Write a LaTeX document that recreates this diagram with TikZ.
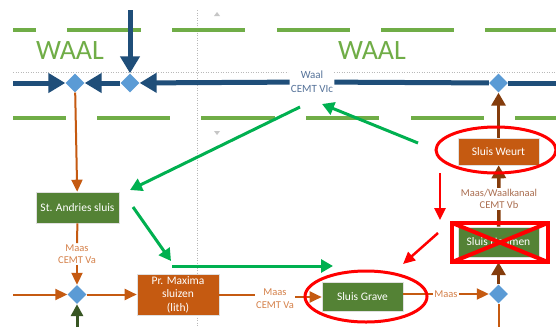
\documentclass[tikz,border=0pt]{standalone}
\usepackage{fontspec}
\setmainfont{Carlito}
\usetikzlibrary{shapes.geometric,arrows.meta}
\definecolor{navy}{HTML}{1F4E79}
\definecolor{waalgreen}{HTML}{70AD47}
\definecolor{arrowgreen}{HTML}{00B050}
\definecolor{boxgreen}{HTML}{548235}
\definecolor{boxorange}{HTML}{C55A11}
\definecolor{brownc}{HTML}{843C0C}
\definecolor{diablue}{HTML}{5B9BD5}
\definecolor{darkgreen}{HTML}{375623}
\definecolor{maaslbl}{HTML}{D5814A}
\definecolor{vblbl}{HTML}{AA6E50}
\definecolor{waallbl}{HTML}{56739A}
\begin{document}
\begin{tikzpicture}[x=1pt,y=-1pt,
 navyln/.style={draw=navy, line width=5pt},
 navyarr/.style={navyln, -{Triangle[length=17pt,width=19pt]}},
 orln/.style={draw=boxorange, line width=2pt},
 orarr/.style={orln, -{Triangle[length=12pt,width=11pt]}},
 brln/.style={draw=brownc, line width=3.5pt},
 brarr/.style={brln, -{Triangle[length=13pt,width=14pt]}},
 grarr/.style={draw=arrowgreen, line width=3pt, -{Triangle[length=12pt,width=13pt]}},
 redarr/.style={draw=red, line width=2.5pt, -{Triangle[length=12pt,width=11pt]}},
 dkgrarr/.style={draw=darkgreen, line width=3pt, -{Triangle[length=12pt,width=12pt]}},
 dia/.style={shape=diamond, aspect=1, minimum width=19pt, minimum height=19pt, inner sep=0pt, fill=diablue},
 box/.style={rectangle, draw=black!12, line width=0.6pt, text=white, font=\fontsize{11.5}{13.5}\selectfont, align=center, inner sep=0pt},
 greenbox/.style={box, fill=boxgreen},
 orbox/.style={box, fill=boxorange},
 waaldash/.style={draw=waalgreen, line width=3.5pt},
 guide/.style={draw=gray!55, line width=0.5pt, dotted},
 lbl/.style={align=center, inner sep=1pt, font=\fontsize{10.5}{12.5}\selectfont},
 redring/.style={shape=ellipse, draw=red, line width=3pt, inner sep=0pt},
]
\useasboundingbox (0,0) rectangle (556,327);
\fill[white] (0,0) rectangle (556,327);

% guides
\draw[guide] (197,10) -- (197,327);
\draw[guide] (13,72) -- (288,72);
\draw[guide] (334,72) -- (556,72);
\fill[gray!45] (214,16) -- (217,12) -- (220,16) -- cycle;
\fill[gray!45] (214,131) -- (217,135) -- (220,131) -- cycle;

% WAAL banks
\foreach \a/\b in {13/36,67/141,172/245,277/350,381/454,485/556}
  \draw[waaldash] (\a,30) -- (\b,30);
\foreach \a/\b in {13/66,97/170,201/275,306/379,411/484,515/556}
  \draw[waaldash] (\a,118) -- (\b,118);
\node[text=waalgreen, font=\fontsize{28}{30}\selectfont, inner sep=0pt] (waalL) at (70,51) {WAAL};
\node[text=waalgreen, font=\fontsize{28}{30}\selectfont, inner sep=0pt] (waalR) at (372,51) {WAAL};

% nodes
\node[dia] (d1) at (75,83) {};
\node[dia] (d2) at (130,83) {};
\node[dia] (d3) at (498.5,83) {};
\node[dia] (d4) at (77,294.5) {};
\node[dia] (d5) at (498.5,294) {};

\node[greenbox, minimum width=83pt, minimum height=31pt] (andries) at (77.5,207.5) {St. Andries sluis};
\node[orbox, minimum width=82pt, minimum height=41pt] (maxima) at (178,294.5) {Pr. Maxima\\sluizen\\(lith)};
\node[greenbox, minimum width=81pt, minimum height=29pt] (grave) at (362.5,297) {Sluis Grave};
\node[greenbox, minimum width=81pt, minimum height=30pt] (heumen) at (498.5,242) {Sluis Heumen};
\node[orbox, minimum width=81pt, minimum height=27pt] (weurt) at (498.5,151.5) {Sluis Weurt};

\node[lbl, text=waallbl, font=\fontsize{11}{14}\selectfont] (wl) at (312,82) {Waal\\CEMT VIc};
\node[lbl, text=maaslbl] (m1) at (77,254) {Maas\\CEMT Va};
\node[lbl, text=maaslbl] (m2) at (275,298.5) {Maas\\CEMT Va};
\node[lbl, text=maaslbl] (m3) at (446,294) {Maas};
\node[lbl, text=vblbl] (vb) at (499,199) {Maas/Waalkanaal\\CEMT Vb};

% red cross frame (named, drawn later)
\node[minimum width=96pt, minimum height=39pt, inner sep=0pt] (xbox) at (500,242.5) {};

% free ends
\coordinate (wlin) at (13,83);
\coordinate (wrin) at (556,83);
\coordinate (top) at (130,10);
\coordinate (orin) at (13,294.5);
\coordinate (dgin) at (77,327);
\coordinate (orout) at (498.5,327);

% Waal (navy)
\draw[navyarr] (wlin) -- (d1);
\draw[navyarr] (d2) -- (d1);
\draw[navyarr] (wl) -- (d2);
\draw[navyln] (d3) -- (wl);
\draw[navyln] (wrin) -- (d3);
\draw[navyarr] (top) -- (d2);

% Maas (orange)
\draw[orarr] (d1) -- (andries);
\draw[orln] (andries) -- (m1);
\draw[orarr] (m1) -- (d4);
\draw[orarr] (orin) -- (d4);
\draw[orarr] (d4) -- (maxima);
\draw[orln] (maxima.east) -- (maxima.east -| m2.west);
\draw[orarr] (m2.east |- grave.west) -- (grave.west);
\draw[orln] (grave.east |- d5) -- (m3);
\draw[orarr] (m3) -- (d5);
\draw[orln] (d5) -- (orout);
\draw[dkgrarr] (dgin) -- (d4);

% Maas-Waalkanaal (brown)
\draw[brarr] (d5) -- (d5 |- xbox.south);
\draw[brln] (heumen) -- (vb);
\draw[brarr] (vb) -- (weurt);
\draw[brarr] (weurt) -- (d3);

% green route arrows
\coordinate (g1a) at (300,107); \coordinate (g1b) at (130,190);
\coordinate (g2a) at (418,143); \coordinate (g2b) at (322,104);
\coordinate (g3a) at (133,207); \coordinate (g3b) at (171,261);
\coordinate (g4a) at (172,266); \coordinate (g4b) at (333,266);
\draw[grarr] (g1a) -- (g1b);
\draw[grarr] (g2a) -- (g2b);
\draw[grarr] (g3a) -- (g3b);
\draw[grarr] (g4a) -- (g4b);

% red marks
\node[redring, minimum width=120pt, minimum height=46pt] (ringW) at (496,150) {};
\node[redring, minimum width=122pt, minimum height=51pt] (ringG) at (366,296.5) {};
\draw[red, line width=4pt] (xbox.north west) rectangle (xbox.south east);
\draw[red, line width=4pt] (xbox.north west) -- (xbox.south east);
\draw[red, line width=4pt] (xbox.south west) -- (xbox.north east);
\coordinate (r1a) at (440,173); \coordinate (r1b) at (440,220);
\coordinate (r2a) at (438,233); \coordinate (r2b) at (403,264);
\draw[redarr] (r1a) -- (r1b);
\draw[redarr] (r2a) -- (r2b);
\end{tikzpicture}
\end{document}
